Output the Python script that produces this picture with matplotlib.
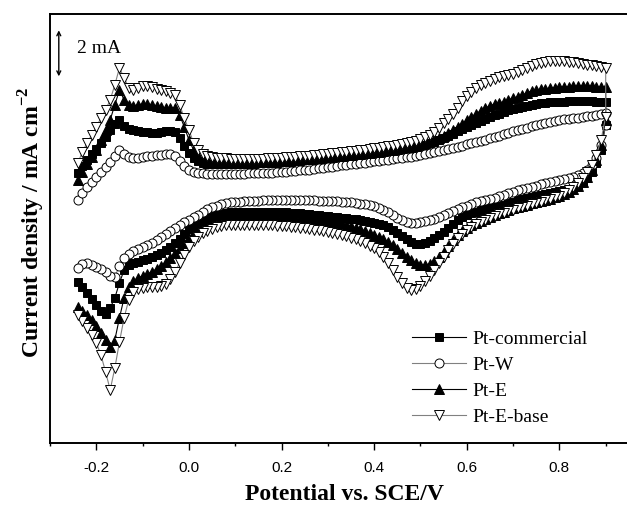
import matplotlib
matplotlib.use("Agg")
import matplotlib.pyplot as plt
from matplotlib.ticker import MultipleLocator

plt.rcParams['mathtext.fontset'] = 'custom'
plt.rcParams['mathtext.rm'] = 'Liberation Serif'
plt.rcParams['mathtext.bf'] = 'Liberation Serif:bold'

# Sweep potentials (V vs. SCE), anodic sweep; the cathodic sweep is the reverse
potential = [-0.24, -0.23, -0.22, -0.21, -0.20, -0.19, -0.18, -0.17, -0.16, -0.15,
             -0.14, -0.13, -0.12, -0.11, -0.10, -0.09, -0.08, -0.07, -0.06, -0.05,
             -0.04, -0.03, -0.02, -0.01, 0.00, 0.01, 0.02, 0.03, 0.04, 0.05,
             0.06, 0.07, 0.08, 0.09, 0.10, 0.11, 0.12, 0.13, 0.14, 0.15,
             0.16, 0.17, 0.18, 0.19, 0.20, 0.21, 0.22, 0.23, 0.24, 0.25,
             0.26, 0.27, 0.28, 0.29, 0.30, 0.31, 0.32, 0.33, 0.34, 0.35,
             0.36, 0.37, 0.38, 0.39, 0.40, 0.41, 0.42, 0.43, 0.44, 0.45,
             0.46, 0.47, 0.48, 0.49, 0.50, 0.51, 0.52, 0.53, 0.54, 0.55,
             0.56, 0.57, 0.58, 0.59, 0.60, 0.61, 0.62, 0.63, 0.64, 0.65,
             0.66, 0.67, 0.68, 0.69, 0.70, 0.71, 0.72, 0.73, 0.74, 0.75,
             0.76, 0.77, 0.78, 0.79, 0.80, 0.81, 0.82, 0.83, 0.84, 0.85,
             0.86, 0.87, 0.88, 0.89, 0.90]

labels = ["Pt-commercial", "Pt-W", "Pt-E", "Pt-E-base"]

# Current (mA, arbitrary offset) - anodic sweep, -0.24 -> 0.90 V
comm_fwd = [0.52, 0.83, 1.09, 1.35, 1.57, 1.83, 2.09, 2.39, 2.65, 2.83,
            2.57, 2.43, 2.39, 2.35, 2.30, 2.30, 2.26, 2.26, 2.30, 2.35,
            2.35, 2.30, 2.04, 1.70, 1.39, 1.17, 1.04, 0.96, 0.91, 0.91,
            0.91, 0.91, 0.91, 0.91, 0.91, 0.91, 0.91, 0.91, 0.91, 0.96,
            0.96, 0.96, 0.96, 0.96, 1.00, 1.00, 1.00, 1.04, 1.04, 1.09,
            1.09, 1.09, 1.13, 1.13, 1.17, 1.17, 1.22, 1.22, 1.26, 1.26,
            1.30, 1.30, 1.35, 1.35, 1.39, 1.39, 1.43, 1.48, 1.48, 1.52,
            1.57, 1.57, 1.61, 1.65, 1.70, 1.74, 1.83, 1.87, 1.96, 2.04,
            2.13, 2.22, 2.35, 2.43, 2.52, 2.61, 2.70, 2.78, 2.87, 2.96,
            3.04, 3.09, 3.17, 3.26, 3.30, 3.35, 3.39, 3.43, 3.48, 3.52,
            3.57, 3.57, 3.61, 3.61, 3.61, 3.61, 3.65, 3.65, 3.65, 3.65,
            3.65, 3.65, 3.61, 3.61, 3.61]
# cathodic sweep, 0.90 -> -0.24 V
comm_rev = [2.61, 1.52, 0.96, 0.57, 0.30, 0.13, 0.00, -0.09, -0.17, -0.22,
            -0.26, -0.30, -0.35, -0.39, -0.43, -0.48, -0.52, -0.57, -0.61, -0.65,
            -0.74, -0.78, -0.87, -0.91, -0.96, -1.00, -1.04, -1.09, -1.17, -1.22,
            -1.30, -1.39, -1.52, -1.70, -1.87, -2.04, -2.17, -2.30, -2.43, -2.52,
            -2.57, -2.57, -2.48, -2.35, -2.22, -2.09, -1.96, -1.83, -1.74, -1.70,
            -1.65, -1.61, -1.57, -1.52, -1.48, -1.48, -1.43, -1.43, -1.39, -1.39,
            -1.35, -1.35, -1.30, -1.30, -1.26, -1.26, -1.22, -1.22, -1.22, -1.17,
            -1.17, -1.17, -1.17, -1.17, -1.17, -1.17, -1.17, -1.17, -1.17, -1.17,
            -1.17, -1.17, -1.22, -1.26, -1.30, -1.35, -1.43, -1.48, -1.61, -1.74,
            -1.91, -2.13, -2.35, -2.52, -2.70, -2.83, -2.96, -3.04, -3.13, -3.22,
            -3.26, -3.35, -3.39, -3.48, -3.70, -4.26, -4.91, -5.35, -5.61, -5.48,
            -5.22, -4.96, -4.70, -4.43, -4.22]

w_fwd = [-0.65, -0.35, -0.09, 0.13, 0.35, 0.57, 0.78, 1.00, 1.26, 1.52,
         1.35, 1.22, 1.17, 1.17, 1.22, 1.26, 1.26, 1.30, 1.30, 1.35,
         1.35, 1.26, 1.04, 0.83, 0.65, 0.57, 0.52, 0.52, 0.48, 0.48,
         0.48, 0.48, 0.48, 0.48, 0.48, 0.48, 0.48, 0.52, 0.52, 0.52,
         0.52, 0.52, 0.52, 0.57, 0.57, 0.57, 0.61, 0.61, 0.65, 0.65,
         0.65, 0.70, 0.74, 0.74, 0.78, 0.78, 0.83, 0.87, 0.87, 0.91,
         0.91, 0.96, 0.96, 1.00, 1.04, 1.04, 1.09, 1.09, 1.13, 1.17,
         1.17, 1.22, 1.22, 1.26, 1.30, 1.35, 1.39, 1.43, 1.48, 1.52,
         1.57, 1.61, 1.65, 1.70, 1.78, 1.83, 1.87, 1.91, 1.96, 2.04,
         2.09, 2.13, 2.22, 2.26, 2.35, 2.39, 2.43, 2.48, 2.57, 2.61,
         2.65, 2.70, 2.74, 2.78, 2.83, 2.87, 2.87, 2.91, 2.91, 2.96,
         3.00, 3.00, 3.04, 3.09, 3.13]
w_rev = [2.61, 1.74, 1.17, 0.87, 0.65, 0.52, 0.43, 0.35, 0.30, 0.26,
         0.22, 0.17, 0.13, 0.09, 0.04, -0.04, -0.09, -0.13, -0.17, -0.22,
         -0.30, -0.35, -0.43, -0.48, -0.57, -0.61, -0.65, -0.70, -0.74, -0.83,
         -0.91, -0.96, -1.04, -1.13, -1.22, -1.30, -1.39, -1.48, -1.52, -1.57,
         -1.61, -1.65, -1.65, -1.61, -1.52, -1.43, -1.30, -1.17, -1.09, -1.00,
         -0.91, -0.87, -0.83, -0.83, -0.78, -0.74, -0.74, -0.74, -0.70, -0.70,
         -0.70, -0.70, -0.70, -0.65, -0.65, -0.65, -0.65, -0.65, -0.65, -0.65,
         -0.65, -0.65, -0.65, -0.65, -0.65, -0.70, -0.70, -0.70, -0.70, -0.74,
         -0.74, -0.74, -0.78, -0.83, -0.91, -0.96, -1.04, -1.17, -1.30, -1.39,
         -1.52, -1.61, -1.74, -1.87, -2.00, -2.13, -2.26, -2.39, -2.52, -2.61,
         -2.70, -2.78, -2.87, -3.00, -3.17, -3.52, -4.00, -3.96, -3.78, -3.65,
         -3.57, -3.48, -3.39, -3.43, -3.61]

e_fwd = [0.22, 0.57, 0.91, 1.22, 1.52, 1.96, 2.39, 2.83, 3.48, 4.13,
         3.70, 3.48, 3.43, 3.48, 3.52, 3.52, 3.48, 3.43, 3.39, 3.35,
         3.35, 3.35, 3.04, 2.52, 1.96, 1.52, 1.26, 1.13, 1.09, 1.04,
         1.04, 1.00, 1.00, 1.00, 1.00, 1.00, 1.00, 1.00, 1.00, 1.00,
         1.00, 1.04, 1.04, 1.04, 1.04, 1.09, 1.09, 1.09, 1.13, 1.13,
         1.13, 1.17, 1.17, 1.22, 1.22, 1.22, 1.26, 1.26, 1.30, 1.30,
         1.35, 1.35, 1.39, 1.39, 1.43, 1.43, 1.48, 1.52, 1.52, 1.57,
         1.61, 1.65, 1.65, 1.70, 1.78, 1.83, 1.91, 2.00, 2.04, 2.13,
         2.26, 2.39, 2.52, 2.65, 2.83, 2.96, 3.09, 3.22, 3.35, 3.43,
         3.52, 3.57, 3.61, 3.70, 3.78, 3.83, 3.91, 4.00, 4.09, 4.13,
         4.17, 4.17, 4.22, 4.22, 4.26, 4.26, 4.26, 4.30, 4.30, 4.30,
         4.30, 4.30, 4.26, 4.26, 4.26]
e_rev = [2.83, 1.74, 1.09, 0.65, 0.35, 0.13, -0.04, -0.17, -0.30, -0.39,
         -0.48, -0.52, -0.61, -0.65, -0.70, -0.74, -0.78, -0.87, -0.91, -0.96,
         -1.00, -1.09, -1.17, -1.22, -1.30, -1.39, -1.48, -1.57, -1.65, -1.74,
         -1.87, -2.00, -2.17, -2.39, -2.65, -2.91, -3.13, -3.30, -3.43, -3.48,
         -3.48, -3.39, -3.26, -3.13, -2.96, -2.78, -2.61, -2.48, -2.35, -2.26,
         -2.17, -2.09, -2.00, -1.91, -1.87, -1.78, -1.74, -1.70, -1.65, -1.61,
         -1.61, -1.57, -1.52, -1.52, -1.48, -1.48, -1.43, -1.43, -1.39, -1.39,
         -1.39, -1.39, -1.35, -1.35, -1.35, -1.35, -1.35, -1.35, -1.35, -1.35,
         -1.35, -1.35, -1.39, -1.43, -1.48, -1.57, -1.65, -1.78, -1.91, -2.09,
         -2.30, -2.52, -2.74, -2.96, -3.17, -3.35, -3.52, -3.65, -3.78, -3.87,
         -3.96, -4.04, -4.17, -4.43, -4.91, -5.78, -6.74, -7.04, -6.74, -6.43,
         -6.13, -5.87, -5.65, -5.48, -5.30]

eb_fwd = [0.96, 1.43, 1.83, 2.17, 2.52, 2.91, 3.26, 3.70, 4.35, 5.09,
          4.65, 4.22, 4.13, 4.22, 4.30, 4.30, 4.26, 4.17, 4.13, 4.09,
          4.00, 3.91, 3.48, 2.91, 2.39, 1.83, 1.52, 1.35, 1.26, 1.22,
          1.17, 1.17, 1.17, 1.13, 1.13, 1.13, 1.13, 1.13, 1.13, 1.13,
          1.13, 1.17, 1.17, 1.17, 1.17, 1.22, 1.22, 1.22, 1.26, 1.26,
          1.26, 1.30, 1.30, 1.35, 1.35, 1.39, 1.39, 1.43, 1.43, 1.48,
          1.48, 1.52, 1.52, 1.57, 1.61, 1.61, 1.65, 1.70, 1.70, 1.74,
          1.78, 1.83, 1.87, 1.91, 2.00, 2.09, 2.17, 2.30, 2.48, 2.70,
          2.87, 3.09, 3.35, 3.65, 3.87, 4.04, 4.22, 4.35, 4.43, 4.52,
          4.61, 4.70, 4.74, 4.78, 4.83, 4.91, 5.00, 5.09, 5.17, 5.26,
          5.30, 5.35, 5.39, 5.39, 5.39, 5.39, 5.35, 5.35, 5.30, 5.26,
          5.22, 5.22, 5.17, 5.13, 5.09]
eb_rev = [2.96, 1.96, 1.30, 0.87, 0.57, 0.30, 0.09, -0.09, -0.22, -0.35,
          -0.48, -0.52, -0.61, -0.65, -0.74, -0.78, -0.83, -0.91, -0.96, -1.00,
          -1.09, -1.13, -1.22, -1.26, -1.35, -1.43, -1.52, -1.61, -1.70, -1.83,
          -1.96, -2.13, -2.30, -2.57, -2.83, -3.13, -3.39, -3.70, -3.96, -4.17,
          -4.39, -4.52, -4.57, -4.48, -4.26, -4.00, -3.70, -3.39, -3.13, -2.91,
          -2.74, -2.65, -2.52, -2.43, -2.35, -2.30, -2.22, -2.17, -2.13, -2.09,
          -2.04, -2.00, -1.96, -1.96, -1.91, -1.87, -1.87, -1.83, -1.83, -1.78,
          -1.78, -1.78, -1.74, -1.74, -1.74, -1.74, -1.74, -1.74, -1.74, -1.74,
          -1.74, -1.74, -1.74, -1.78, -1.83, -1.91, -2.00, -2.09, -2.26, -2.43,
          -2.70, -3.04, -3.39, -3.78, -4.09, -4.30, -4.39, -4.43, -4.43, -4.43,
          -4.48, -4.52, -4.65, -5.00, -5.78, -6.83, -7.96, -8.91, -8.13, -7.39,
          -6.87, -6.52, -6.22, -5.91, -5.65]

x_ticks = [-0.2, 0.0, 0.2, 0.4, 0.6, 0.8]
x_tick_labels = ["-0.2", "0.0", "0.2", "0.4", "0.6", "0.8"]

W, H = 627, 505
fig = plt.figure(figsize=(W / 100, H / 100), dpi=100)
# axes extend a little past the right edge of the (cropped) figure
ax = fig.add_axes([50 / W, 62 / H, 602 / W, 429 / H])

sweep = potential + potential[::-1]
series = [
    (comm_fwd + comm_rev, 's', 'black', 'black', 5.2, 'black'),
    (w_fwd + w_rev, 'o', 'white', 'black', 6.5, '#808080'),
    (e_fwd + e_rev, '^', 'black', 'black', 7.0, 'black'),
    (eb_fwd + eb_rev, 'v', 'white', 'black', 7.0, '#808080'),
]
for (y, mk, mfc, mec, ms, lc), lab in zip(series, labels):
    ax.plot(sweep, y, color=lc, lw=0.8, marker=mk, mfc=mfc, mec=mec,
            ms=ms, mew=0.7, label=lab)

ax.set_xlim(-0.3, 1.0)
ax.set_ylim(-11.22, 7.43)
ax.set_xticks(x_ticks)
ax.set_xticklabels(x_tick_labels, fontfamily='Liberation Sans', fontsize=11)
ax.xaxis.set_minor_locator(MultipleLocator(0.1))
ax.tick_params(axis='x', which='major', direction='out', length=5, width=1.0, pad=8)
ax.tick_params(axis='x', which='minor', direction='out', length=2.5, width=1.0)
ax.tick_params(axis='y', which='both', left=False, labelleft=False)
for s in ax.spines.values():
    s.set_linewidth(1.4)

# scale bar: 2 mA
ax.annotate('', xy=(-0.281, 6.72), xytext=(-0.281, 4.72),
            arrowprops=dict(arrowstyle='<->', lw=1.0, color='black',
                            mutation_scale=7, shrinkA=0, shrinkB=0))
ax.text(-0.242, 5.93, '2 mA', fontfamily='Liberation Serif', fontsize=14,
        va='center', ha='left')

leg = ax.legend(loc='upper left', bbox_to_anchor=(412 / W, 1 - 330 / H),
                bbox_transform=fig.transFigure, frameon=False,
                prop={'family': 'Liberation Serif', 'size': 14},
                handlelength=2.8, handletextpad=0.3, labelspacing=0.43,
                borderpad=0, borderaxespad=0)

fig.text(344 / W, 1 - 495 / H, 'Potential vs. SCE/V', ha='center', va='center',
         fontfamily='Liberation Serif', fontweight='bold', fontsize=17)
fig.text(32 / W, 1 - 222 / H, r'Current density / mA cm$^{\mathbf{-2}}$',
         rotation=90, ha='center', va='center',
         fontfamily='Liberation Serif', fontweight='bold', fontsize=17)

fig.savefig('out.png', dpi=100)
